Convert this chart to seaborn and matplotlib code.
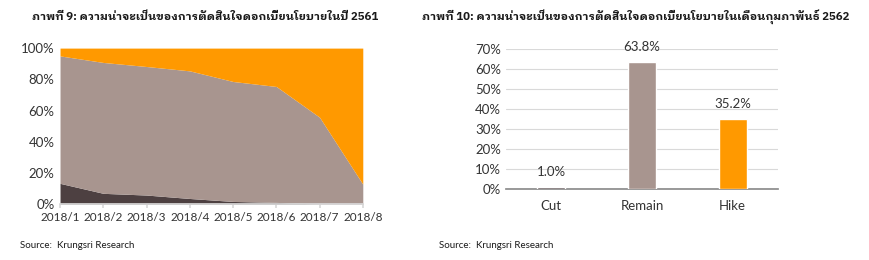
import matplotlib
matplotlib.use("Agg")
import numpy as np
import pandas as pd
import matplotlib.pyplot as plt
import seaborn as sns

# Chart 9: probability of policy-rate decision through 2018 (stacked, %)
months = ["2018/1", "2018/2", "2018/3", "2018/4", "2018/5", "2018/6", "2018/7", "2018/8"]
cut = [13.3, 6.9, 5.8, 3.6, 1.7, 1.1, 0.0, 0.0]
remain = [81.7, 83.9, 82.4, 81.8, 76.9, 74.3, 55.7, 12.8]
hike = [5.0, 9.2, 11.8, 14.6, 21.4, 24.6, 44.3, 87.2]

# Chart 10: probability of decision in Feb 2562
decisions = ["Cut", "Remain", "Hike"]
probs = [1.0, 63.8, 35.2]

colors = ["#4d4041", "#a8958f", "#ff9900"]

title9 = "ภาพที่ 9: ความน่าจะเป็นของการตัดสินใจดอกเบี้ยนโยบายในปี 2561"
title10 = "ภาพที่ 10: ความน่าจะเป็นของการตัดสินใจดอกเบี้ยนโยบายในเดือนกุมภาพันธ์ 2562"
source = "Source:  Krungsri Research"

sns.set_theme(style="white")
plt.rcParams["font.family"] = ["Lato", "DejaVu Sans"]
thai = ["IBM Plex Sans Thai Looped", "DejaVu Sans"]

fig = plt.figure(figsize=(8.7, 2.6), dpi=100)

# left: stacked area
ax1 = fig.add_axes([0.069, 0.215, 0.348, 0.60])
x = np.arange(len(months))
ax1.stackplot(x, cut, remain, hike, colors=colors, linewidth=0)
ax1.set_xlim(0, len(months) - 1)
ax1.set_ylim(0, 100)
ax1.set_xticks(x)
ax1.set_xticklabels(months)
ax1.set_yticks(range(0, 101, 20))
ax1.set_yticklabels([f"{v}%" for v in range(0, 101, 20)])
ax1.tick_params(axis="y", labelsize=9.5, colors="#333333", length=0, pad=4)
ax1.tick_params(axis="x", labelsize=8.5, labelcolor="#333333", length=3,
                color="#d9d9d9", bottom=True, pad=3)
for s in ["top", "right", "left"]:
    ax1.spines[s].set_visible(False)
ax1.spines["bottom"].set_color("#d9d9d9")

# right: bar chart
ax2 = fig.add_axes([0.5816, 0.274, 0.3126, 0.536])
df = pd.DataFrame({"decision": decisions, "prob": probs})
sns.barplot(data=df, x="decision", y="prob", hue="decision", palette=colors,
            width=0.31, legend=False, ax=ax2, saturation=1, zorder=3)
ax2.set_ylim(0, 70)
ax2.set_xlim(-0.5, 2.5)
ax2.set_yticks(range(0, 71, 10))
ax2.set_yticklabels([f"{v}%" for v in range(0, 71, 10)])
ax2.yaxis.grid(True, color="#d9d9d9", linewidth=0.8)
ax2.set_axisbelow(True)
ax2.set_xlabel("")
ax2.set_ylabel("")
ax2.tick_params(axis="both", labelsize=9.5, colors="#333333", length=0)
ax2.tick_params(axis="x", pad=8)
for s in ["top", "right", "left"]:
    ax2.spines[s].set_visible(False)
ax2.spines["bottom"].set_color("#8c8c8c")
ax2.spines["bottom"].set_zorder(2)
for i, v in enumerate(probs):
    ax2.text(i, v + 4.2, f"{v:.1f}%", ha="center", va="bottom",
             fontsize=9.5, color="#333333")

# titles and sources
fig.text(0.037, 0.925, title9, fontsize=8.2, fontweight="bold",
         family=thai, color="#1a1a1a", va="baseline")
fig.text(0.485, 0.925, title10, fontsize=8.2, fontweight="bold",
         family=thai, color="#1a1a1a", va="baseline")
fig.text(0.023, 0.045, source, fontsize=7, color="#1a1a1a", va="baseline")
fig.text(0.505, 0.045, source, fontsize=7, color="#1a1a1a", va="baseline")

fig.savefig("out.png", dpi=100, facecolor="white")
